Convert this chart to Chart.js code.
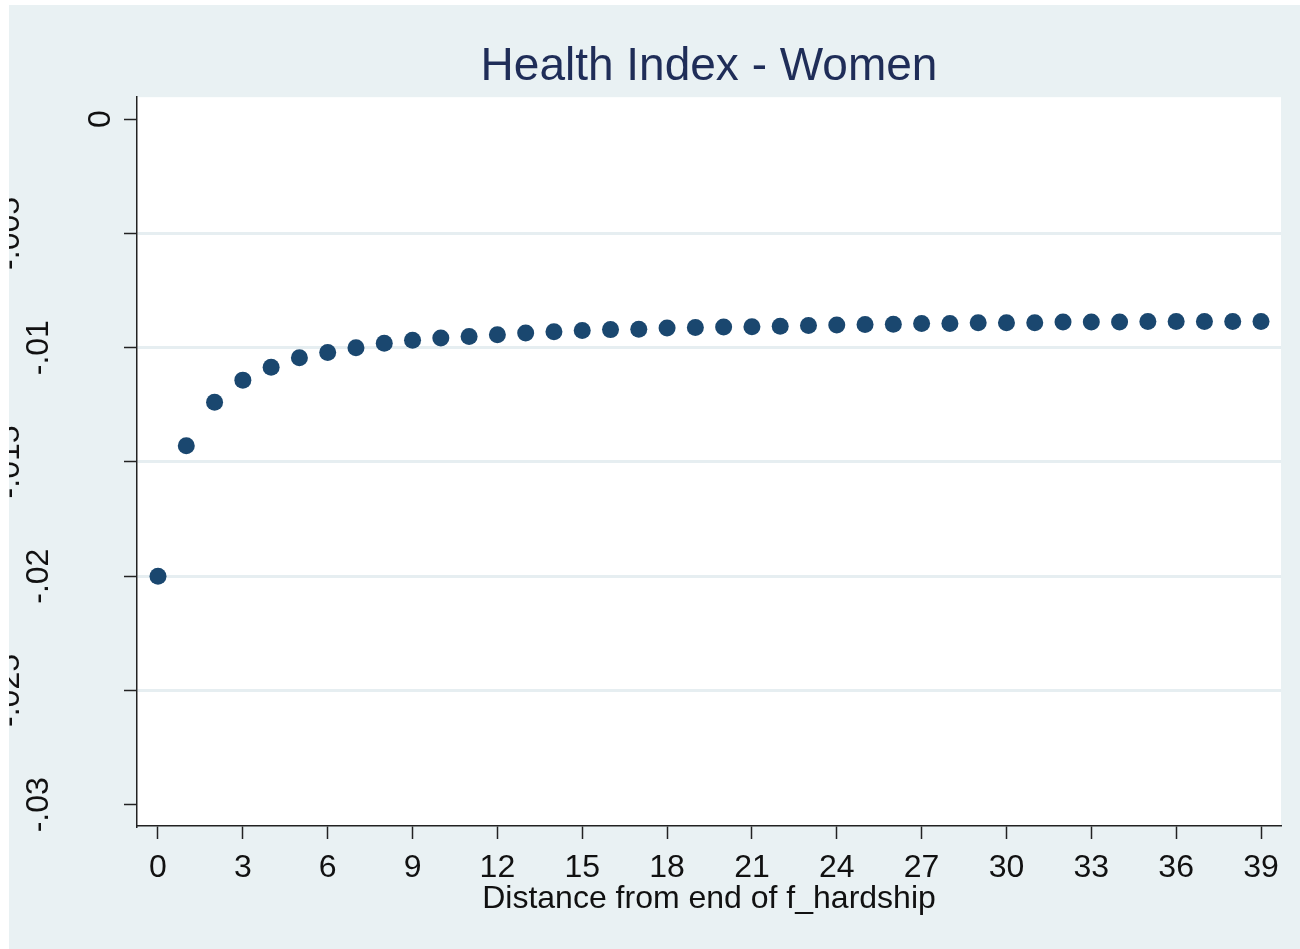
<!DOCTYPE html>
<html>
<head>
<meta charset="utf-8">
<script src="https://cdn.jsdelivr.net/npm/chart.js@4"></script>
<style>
  html, body { margin: 0; padding: 0; background: #fff; }
  #box { width: 1300px; height: 949px; }
</style>
</head>
<body>
<div id="box"><canvas id="myChart" width="1300" height="949"></canvas></div>
<script>
// valores
let distancia = [0,1,2,3,4,5,6,7,8,9,10,11,12,13,14,15,16,17,18,19,20,21,22,23,24,25,26,27,28,29,30,31,32,33,34,35,36,37,38,39]
let indice = [-0.0200,-0.01429,-0.01239,-0.01142,-0.01086,-0.01044,-0.01021,-0.01000,-0.00981,-0.00968,
              -0.00958,-0.00951,-0.00943,-0.00936,-0.00930,-0.00925,-0.00921,-0.00919,-0.00914,-0.00912,
              -0.00910,-0.00908,-0.00906,-0.00903,-0.00901,-0.00899,-0.00897,-0.00894,-0.00894,-0.00891,
              -0.00891,-0.00891,-0.00888,-0.00888,-0.00888,-0.00885,-0.00885,-0.00885,-0.00885,-0.00885]
let xTicks = [0,3,6,9,12,15,18,21,24,27,30,33,36,39]
let yTicks = [0,-0.005,-0.01,-0.015,-0.02,-0.025,-0.03]
let yTickLabels = ["0","-.005","-.01","-.015","-.02","-.025","-.03"]

const fundo = '#e9f1f3'
const azul = '#1a476f'

// pinta fundo e area branca
const fundoPlugin = {
  id: 'fundo',
  beforeDraw(chart) {
    const c = chart.ctx, a = chart.chartArea
    c.save()
    c.fillStyle = fundo
    c.fillRect(0, 0, chart.width, chart.height)
    c.fillStyle = '#fff'
    c.fillRect(a.left, a.top, a.right - a.left, a.bottom - a.top)
    c.restore()
  },
  afterDraw(chart) {
    const c = chart.ctx, a = chart.chartArea
    const ys = chart.scales.y
    c.save()
    c.fillStyle = '#111'
    c.font = '32px "Liberation Sans", Arial, sans-serif'
    c.textAlign = 'center'
    c.textBaseline = 'alphabetic'
    yTicks.forEach((v, i) => {
      let py = ys.getPixelForValue(v)
      //labels alternados como no stata
      let px = i == 0 ? a.left - 27 : (i % 2 == 1 ? a.left - 118 : a.left - 89)
      c.save()
      c.translate(px, py)
      c.rotate(-Math.PI / 2)
      c.fillText(yTickLabels[i], 0, 0)
      c.restore()
    })
    // borda branca
    c.fillStyle = '#fff'
    c.fillRect(0, 0, chart.width, 5)
    c.fillRect(0, 0, 9, chart.height)
    c.restore()
  }
}

var ctx = document.getElementById('myChart').getContext('2d');
var myChart = new Chart(ctx, {
  type: 'scatter',
  data: {
    datasets: [{
      data: distancia.map((d, i) => ({x: d, y: indice[i]})),
      backgroundColor: azul,
      borderWidth: 0,
      pointRadius: 8.5,
      pointHoverRadius: 8.5
    }]
  },
  options: {
    responsive: false,
    animation: false,
    layout: { padding: { left: 9, top: 5, right: 19, bottom: 0 } },
    plugins: {
      legend: { display: false },
      tooltip: { enabled: false },
      title: {
        display: true,
        text: 'Health Index - Women',
        color: '#1f2d58',
        fullSize: false,
        font: { family: '"Liberation Sans", Arial, sans-serif', size: 46, weight: 'normal' },
        padding: { top: 35, bottom: 2 }
      }
    },
    scales: {
      x: {
        type: 'linear',
        min: -0.7425,
        max: 39.707,
        afterBuildTicks: s => { s.ticks = xTicks.map(v => ({value: v})) },
        afterFit: s => { s.height = 123 },
        ticks: {
          color: '#111',
          padding: 10,
          maxRotation: 0,
          autoSkip: false,
          font: { family: '"Liberation Sans", Arial, sans-serif', size: 32 },
          callback: v => String(v)
        },
        grid: { drawOnChartArea: false, drawTicks: true, tickLength: 13, tickColor: '#222', tickWidth: 1.5 },
        border: { display: true, color: '#222', width: 1.5 },
        title: {
          display: true,
          text: 'Distance from end of f_hardship',
          color: '#111',
          font: { family: '"Liberation Sans", Arial, sans-serif', size: 32 },
          padding: { top: 0, bottom: 31 }
        }
      },
      y: {
        type: 'linear',
        min: -0.03093,
        max: 0.00096,
        afterBuildTicks: s => { s.ticks = yTicks.map(v => ({value: v})) },
        afterFit: s => { s.width = 128 },
        ticks: { color: 'rgba(0,0,0,0)', font: { size: 10 } },
        grid: {
          color: c => (c.tick && (c.tick.value === 0 || c.tick.value === -0.03)) ? 'rgba(0,0,0,0)' : '#e6eef1',
          lineWidth: 3,
          drawTicks: true,
          tickLength: 13,
          tickColor: '#222',
          tickWidth: 1.5
        },
        border: { display: true, color: '#222', width: 1.5 }
      }
    }
  },
  plugins: [fundoPlugin]
});
</script>
</body>
</html>
